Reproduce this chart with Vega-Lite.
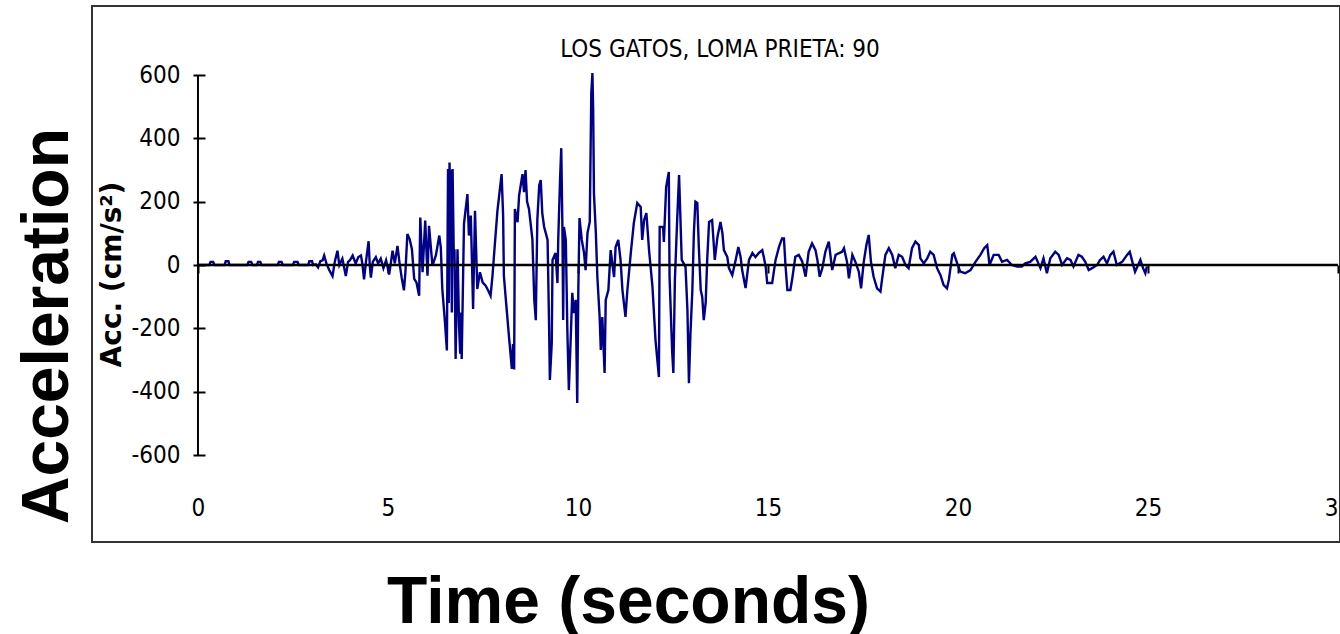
{
  "$schema": "https://vega.github.io/schema/vega-lite/v6.json",
  "width": 1248,
  "height": 536,
  "autosize": {"type": "none"},
  "padding": {"left": 92, "top": 6, "right": 0, "bottom": 92},
  "background": "white",
  "title": {"text": "LOS GATOS, LOMA PRIETA: 90", "font": "DejaVu Sans Condensed, sans-serif", "fontSize": 24, "fontWeight": "normal", "color": "black", "anchor": "middle", "frame": "group", "dx": 4, "offset": -75, "baseline": "alphabetic"},
  "config": {"view": {"stroke": "#333333", "strokeWidth": 2}},
  "layer": [
    {
      "data": {"values": [
        {"t":0,"a":0},{"t":0.30,"a":0},{"t":0.33,"a":10},{"t":0.40,"a":10},{"t":0.43,"a":0},{"t":0.70,"a":0},{"t":0.73,"a":12},{"t":0.80,"a":12},{"t":0.83,"a":0},{"t":1.30,"a":0},{"t":1.33,"a":10},{"t":1.40,"a":10},{"t":1.43,"a":0},{"t":1.55,"a":0},{"t":1.58,"a":10},{"t":1.64,"a":10},{"t":1.67,"a":0},{"t":2.10,"a":0},{"t":2.13,"a":10},{"t":2.20,"a":10},{"t":2.23,"a":0},{"t":2.50,"a":0},{"t":2.53,"a":10},{"t":2.62,"a":10},{"t":2.65,"a":0},{"t":2.90,"a":0},{"t":2.93,"a":12},{"t":3.00,"a":12},{"t":3.03,"a":0},
        {"t":3.10,"a":2},{"t":3.16,"a":-8},{"t":3.22,"a":12},{"t":3.28,"a":15},{"t":3.32,"a":30},{"t":3.38,"a":5},{"t":3.45,"a":-15},{"t":3.54,"a":-35},{"t":3.60,"a":10},{"t":3.67,"a":45},{"t":3.72,"a":0},{"t":3.80,"a":20},{"t":3.89,"a":-35},{"t":3.95,"a":10},{"t":4.00,"a":15},{"t":4.07,"a":30},{"t":4.15,"a":5},{"t":4.22,"a":25},{"t":4.29,"a":30},{"t":4.33,"a":0},{"t":4.37,"a":-45},{"t":4.42,"a":10},{"t":4.49,"a":75},{"t":4.52,"a":0},{"t":4.55,"a":-40},{"t":4.60,"a":10},{"t":4.68,"a":25},{"t":4.74,"a":5},{"t":4.81,"a":20},{"t":4.88,"a":-10},{"t":4.95,"a":15},{"t":5.03,"a":-30},{"t":5.08,"a":10},{"t":5.12,"a":45},{"t":5.18,"a":5},{"t":5.25,"a":60},{"t":5.30,"a":10},{"t":5.36,"a":-40},{"t":5.42,"a":-80},{"t":5.46,"a":-20},
        {"t":5.51,"a":98},{"t":5.57,"a":82},{"t":5.63,"a":50},{"t":5.69,"a":-44},{"t":5.75,"a":-55},{"t":5.82,"a":-97},{"t":5.85,"a":150},{"t":5.91,"a":-23},{"t":5.98,"a":140},{"t":6.04,"a":-34},{"t":6.08,"a":124},{"t":6.17,"a":-2},{"t":6.26,"a":30},{"t":6.35,"a":93},{"t":6.39,"a":56},{"t":6.43,"a":-76},{"t":6.50,"a":-181},{"t":6.55,"a":-270},{"t":6.58,"a":303},{"t":6.60,"a":-120},{"t":6.62,"a":324},{"t":6.64,"a":150},{"t":6.66,"a":300},{"t":6.68,"a":-150},{"t":6.70,"a":303},{"t":6.73,"a":40},{"t":6.75,"a":50},{"t":6.78,"a":-297},{"t":6.83,"a":50},{"t":6.87,"a":-192},{"t":6.90,"a":-280},{"t":6.92,"a":-150},{"t":6.94,"a":-297},{"t":7.00,"a":130},{"t":7.09,"a":224},{"t":7.13,"a":93},{"t":7.18,"a":156},{"t":7.24,"a":-139},{"t":7.29,"a":171},{"t":7.35,"a":-76},{"t":7.42,"a":-23},{"t":7.49,"a":-55},{"t":7.57,"a":-65},{"t":7.64,"a":-81},{"t":7.70,"a":-97},{"t":7.75,"a":-34},{"t":7.79,"a":30},{"t":7.88,"a":171},{"t":7.99,"a":287},{"t":8.03,"a":156},{"t":8.05,"a":-34},{"t":8.10,"a":-107},{"t":8.19,"a":-234},{"t":8.26,"a":-328},{"t":8.29,"a":-250},{"t":8.32,"a":-330},{"t":8.34,"a":177},{"t":8.41,"a":135},{"t":8.45,"a":219},{"t":8.54,"a":287},{"t":8.58,"a":230},{"t":8.62,"a":300},{"t":8.66,"a":200},{"t":8.71,"a":177},{"t":8.80,"a":82},{"t":8.85,"a":-110},{"t":8.89,"a":-174},{"t":8.93,"a":142},{"t":8.98,"a":252},{"t":9.02,"a":268},{"t":9.06,"a":164},{"t":9.11,"a":120},{"t":9.20,"a":79},{"t":9.24,"a":-195},{"t":9.26,"a":-363},{"t":9.31,"a":-246},{"t":9.33,"a":16},{"t":9.41,"a":38},{"t":9.46,"a":-57},{"t":9.48,"a":79},{"t":9.53,"a":278},{"t":9.56,"a":369},{"t":9.59,"a":120},{"t":9.61,"a":-174},{"t":9.63,"a":120},{"t":9.68,"a":79},{"t":9.72,"a":-205},{"t":9.76,"a":-395},{"t":9.81,"a":-227},{"t":9.85,"a":-88},{"t":9.89,"a":-152},{"t":9.94,"a":-110},{"t":9.98,"a":-436},{"t":10.01,"a":-69},{"t":10.04,"a":148},{"t":10.10,"a":79},{"t":10.16,"a":38},{"t":10.20,"a":-16},{"t":10.25,"a":101},{"t":10.31,"a":136},{"t":10.35,"a":543},{"t":10.38,"a":606},{"t":10.40,"a":490},{"t":10.42,"a":227},{"t":10.47,"a":101},{"t":10.51,"a":-38},{"t":10.57,"a":-164},{"t":10.60,"a":-268},{"t":10.64,"a":-164},{"t":10.70,"a":-341},{"t":10.73,"a":-110},{"t":10.80,"a":-79},{"t":10.86,"a":47},{"t":10.95,"a":-38},{"t":10.99,"a":57},{"t":11.06,"a":79},{"t":11.12,"a":16},{"t":11.17,"a":-79},{"t":11.25,"a":-164},{"t":11.30,"a":-79},{"t":11.39,"a":38},{"t":11.47,"a":133},{"t":11.56,"a":196},{"t":11.65,"a":183},{"t":11.69,"a":79},{"t":11.74,"a":142},{"t":11.80,"a":164},{"t":11.87,"a":47},{"t":11.96,"a":-69},{"t":12.04,"a":-237},{"t":12.13,"a":-354},{"t":12.15,"a":120},{"t":12.24,"a":120},{"t":12.26,"a":73},{"t":12.32,"a":246},{"t":12.39,"a":294},{"t":12.41,"a":-38},{"t":12.48,"a":-278},{"t":12.51,"a":-341},{"t":12.55,"a":-47},{"t":12.61,"a":142},{"t":12.66,"a":284},{"t":12.73,"a":16},{"t":12.83,"a":-6},{"t":12.88,"a":-142},{"t":12.92,"a":-373},{"t":12.96,"a":-215},{"t":13.01,"a":-79},{"t":13.05,"a":101},{"t":13.09,"a":200},{"t":13.14,"a":196},{"t":13.18,"a":57},{"t":13.23,"a":-79},{"t":13.27,"a":-101},{"t":13.31,"a":-174},{"t":13.36,"a":-120},{"t":13.40,"a":16},{"t":13.45,"a":136},{"t":13.53,"a":142},{"t":13.60,"a":16},{"t":13.67,"a":88},{"t":13.75,"a":136},{"t":13.80,"a":101},{"t":13.84,"a":47},{"t":13.93,"a":25},{"t":13.97,"a":-9},{"t":14.06,"a":-32},{"t":14.15,"a":16},{"t":14.22,"a":57},{"t":14.28,"a":25},{"t":14.32,"a":-16},{"t":14.41,"a":-73},{"t":14.50,"a":16},{"t":14.59,"a":38},{"t":14.67,"a":25},{"t":14.76,"a":38},{"t":14.85,"a":47},{"t":14.89,"a":25},{"t":14.94,"a":-6},{"t":14.98,"a":-57},{"t":15.11,"a":-57},{"t":15.20,"a":16},{"t":15.29,"a":57},{"t":15.37,"a":84},{"t":15.42,"a":84},{"t":15.46,"a":0},{"t":15.51,"a":-79},{"t":15.59,"a":-79},{"t":15.64,"a":-42},
        {"t":15.72,"a":26},{"t":15.81,"a":32},{"t":15.90,"a":11},{"t":15.99,"a":-37},{"t":16.07,"a":42},{"t":16.16,"a":68},{"t":16.25,"a":47},{"t":16.30,"a":16},{"t":16.36,"a":-37},{"t":16.43,"a":-10},{"t":16.51,"a":42},{"t":16.60,"a":74},{"t":16.69,"a":-16},{"t":16.78,"a":32},{"t":16.86,"a":37},{"t":16.95,"a":42},{"t":17.00,"a":53},{"t":17.08,"a":10},{"t":17.13,"a":-42},{"t":17.22,"a":32},{"t":17.30,"a":10},{"t":17.39,"a":-21},{"t":17.45,"a":-74},{"t":17.52,"a":10},{"t":17.59,"a":63},{"t":17.65,"a":95},{"t":17.71,"a":10},{"t":17.78,"a":-37},{"t":17.87,"a":-74},{"t":17.96,"a":-84},{"t":18.00,"a":-47},{"t":18.09,"a":32},{"t":18.18,"a":53},{"t":18.27,"a":32},{"t":18.35,"a":-10},{"t":18.44,"a":32},{"t":18.53,"a":26},{"t":18.62,"a":0},{"t":18.70,"a":-10},{"t":18.79,"a":53},{"t":18.88,"a":74},{"t":18.97,"a":63},{"t":19.01,"a":21},{"t":19.10,"a":5},{"t":19.19,"a":21},{"t":19.27,"a":42},{"t":19.36,"a":32},{"t":19.45,"a":-10},{"t":19.54,"a":-32},{"t":19.62,"a":-63},{"t":19.71,"a":-74},{"t":19.76,"a":-47},{"t":19.85,"a":32},{"t":19.89,"a":37},{"t":19.98,"a":5},{"t":20.06,"a":-21},{"t":20.19,"a":-26},{"t":20.33,"a":-16},{"t":20.46,"a":10},{"t":20.59,"a":32},{"t":20.69,"a":53},{"t":20.77,"a":63},{"t":20.83,"a":0},{"t":20.94,"a":32},{"t":21.07,"a":32},{"t":21.16,"a":10},{"t":21.29,"a":16},{"t":21.42,"a":0},{"t":21.55,"a":-5},{"t":21.68,"a":-5},{"t":21.77,"a":5},{"t":21.90,"a":10},{"t":22.04,"a":26},{"t":22.17,"a":-10},{"t":22.25,"a":21},{"t":22.34,"a":-26},{"t":22.43,"a":21},{"t":22.56,"a":42},{"t":22.65,"a":32},{"t":22.74,"a":0},{"t":22.87,"a":21},{"t":22.96,"a":16},{"t":23.04,"a":-5},{"t":23.17,"a":32},{"t":23.26,"a":26},{"t":23.35,"a":10},{"t":23.44,"a":-16},{"t":23.53,"a":-10},{"t":23.66,"a":0},{"t":23.74,"a":16},{"t":23.83,"a":26},{"t":23.92,"a":5},{"t":24.01,"a":32},{"t":24.09,"a":42},{"t":24.18,"a":0},{"t":24.32,"a":10},{"t":24.45,"a":32},{"t":24.52,"a":42},{"t":24.60,"a":5},{"t":24.66,"a":-21},{"t":24.80,"a":16},{"t":24.87,"a":-10},{"t":24.93,"a":-26},{"t":24.97,"a":-5}
      ]},
      "mark": {"type": "line", "color": "#000088", "strokeWidth": 2.4},
      "encoding": {
        "x": {"field": "t", "type": "quantitative",
          "scale": {"domain": [-2.789, 30.053], "nice": false, "zero": false},
          "axis": {"values": [0, 5, 10, 15, 20, 25, 30], "offset": -277, "domain": false, "grid": false, "ticks": true, "tickSize": 8, "tickWidth": 2, "tickColor": "black", "labelPadding": 223, "labelFont": "DejaVu Sans Condensed, sans-serif", "labelFontSize": 24, "labelColor": "black", "labelFlush": false, "labelOverlap": false, "title": "Time (seconds)", "titleFont": "Liberation Sans", "titleFontSize": 66, "titleFontWeight": "bold", "titleColor": "black", "titleX": 536, "titleY": 357, "titleAlign": "center", "titleBaseline": "alphabetic"}},
        "y": {"field": "a", "type": "quantitative",
          "scale": {"domain": [-874.7, 817.9], "nice": false, "zero": false},
          "axis": {"values": [-600, -400, -200, 0, 200, 400, 600], "offset": -113, "domain": false, "grid": false, "tickSize": 12, "tickWidth": 2, "tickColor": "black", "labelPadding": 13, "labelFont": "DejaVu Sans Condensed, sans-serif", "labelFontSize": 24, "labelColor": "black", "labelExpr": "'' + datum.value", "title": "Acc. (cm/s²)", "titleFont": "DejaVu Sans", "titleFontSize": 28, "titleFontWeight": "bold", "titleColor": "black", "titleX": -93, "titleY": 268, "titleAngle": -90, "titleAlign": "center", "titleBaseline": "middle"}}
      }
    },
    {
      "data": {"values": [{}]},
      "mark": {"type": "rule", "color": "black", "strokeWidth": 2.5},
      "encoding": {"x": {"datum": 0}, "x2": {"datum": 30}, "y": {"datum": 0}}
    },
    {
      "data": {"values": [{}]},
      "mark": {"type": "rule", "color": "black", "strokeWidth": 2},
      "encoding": {"x": {"datum": 0}, "y": {"datum": -600}, "y2": {"datum": 600}}
    },
    {
      "data": {"values": [{}]},
      "mark": {"type": "text", "text": "Acceleration", "angle": 270, "font": "Liberation Sans", "fontSize": 66, "fontWeight": "bold", "color": "black", "align": "center", "baseline": "alphabetic"},
      "encoding": {"x": {"datum": -3.42}, "y": {"datum": -193}}
    }
  ]
}
